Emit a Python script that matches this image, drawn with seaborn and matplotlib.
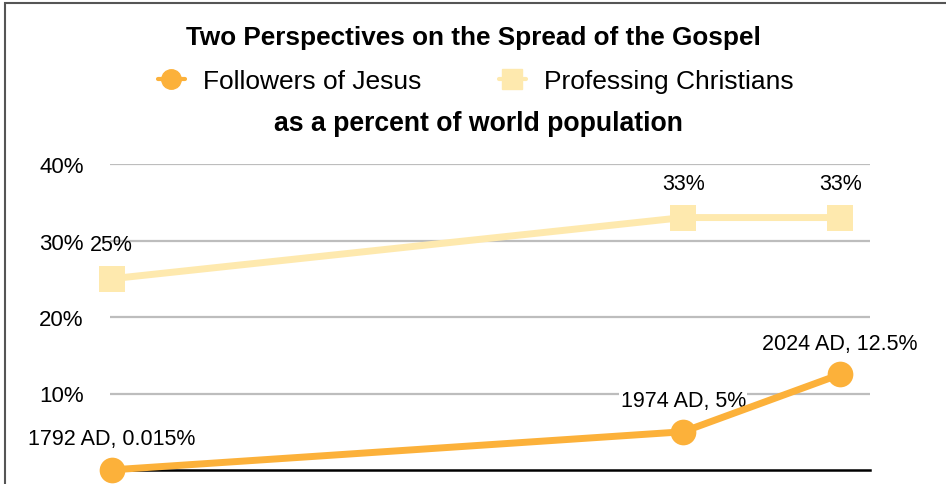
import pandas as pd
import numpy as np
import matplotlib
matplotlib.use('Agg')
import matplotlib.pyplot as plt
import seaborn as sns
from matplotlib.lines import Line2D
from matplotlib.patches import Rectangle

sns.set_style('white')
plt.rcParams['font.family'] = ['Liberation Sans', 'DejaVu Sans']
plt.rcParams['text.color'] = 'black'
plt.rcParams['ytick.color'] = 'black'

# data
years = [1792, 1974, 2024]
followers = [0.015, 5, 12.5]
professing = [25, 33, 33]
follower_labels = ['1792 AD, 0.015%', '1974 AD, 5%', '2024 AD, 12.5%']
professing_labels = ['25%', '33%', '33%']
yticks = [10, 20, 30, 40]
ytick_labels = ['10%', '20%', '30%', '40%']

orange = '#FCB13A'
pale = '#FEE9AE'

df = pd.concat([
    pd.DataFrame({'year': years, 'pct': followers, 'series': 'Followers of Jesus'}),
    pd.DataFrame({'year': years, 'pct': professing, 'series': 'Professing Christians'}),
])

fig = plt.figure(figsize=(9.46, 4.85), dpi=100)
ax = fig.add_axes([110/946, 14/485, 760/946, 306/485])

sns.lineplot(data=df, x='year', y='pct', hue='series', style='series',
             palette={'Followers of Jesus': orange, 'Professing Christians': pale},
             markers={'Followers of Jesus': 'o', 'Professing Christians': 's'},
             dashes=False, linewidth=5, markersize=18.5, markeredgewidth=0,
             legend=False, ax=ax, zorder=3)
for ln in ax.lines:
    ln.set_clip_on(False)

ax.set_xlim(1791.5, 2033.5)
ax.set_ylim(0, 40)
ax.set_yticks(yticks)
ax.set_yticklabels(ytick_labels)
ax.set_xticks([])
ax.set_xlabel('')
ax.set_ylabel('')
ax.tick_params(axis='y', length=0, pad=19, labelsize=16, labelcolor='black')
ax.grid(axis='y', color='#BDBDBD', linewidth=1.6)
ax.set_axisbelow(True)
for s in ['left', 'right', 'top']:
    ax.spines[s].set_visible(False)
ax.spines['bottom'].set_color('black')
ax.spines['bottom'].set_linewidth(1.8)
ax.spines['bottom'].set_zorder(2)

# point labels
for x, y, t in zip(years, professing, professing_labels):
    ax.annotate(t, (x, y), xytext=(0, 34), textcoords='offset pixels',
                ha='center', va='center', fontsize=15.5)
for x, y, t in zip(years, followers, follower_labels):
    bbox = dict(facecolor='white', edgecolor='none', pad=1) if x == 1974 else None
    ax.annotate(t, (x, y), xytext=(0, 31), textcoords='offset pixels',
                ha='center', va='center', fontsize=15.5, bbox=bbox, zorder=2.5)

# titles and legend
fig.text(0.5, 1 - 38/485, 'Two Perspectives on the Spread of the Gospel',
         ha='center', va='center', fontsize=18.8, fontweight='bold')
fig.text(478/946, 1 - 124/485, 'as a percent of world population',
         ha='center', va='center', fontsize=19.2, fontweight='bold')
handles = [Line2D([], [], color=orange, marker='o', markersize=14, linewidth=3),
           Line2D([], [], color=pale, marker='s', markersize=14, linewidth=3)]
fig.legend(handles, ['Followers of Jesus', 'Professing Christians'],
           loc='center', bbox_to_anchor=(476/946, 1 - 82/485), ncol=2,
           frameon=False, fontsize=19, handlelength=1.0, handletextpad=0.7,
           columnspacing=2.95)

# outer frame
fig.patches.append(Rectangle((5/946, -0.1), 1.2, 1 - 4/485 + 0.1,
                             transform=fig.transFigure, fill=False,
                             edgecolor='#555555', linewidth=1.5))

fig.savefig('out.png', dpi=100)
